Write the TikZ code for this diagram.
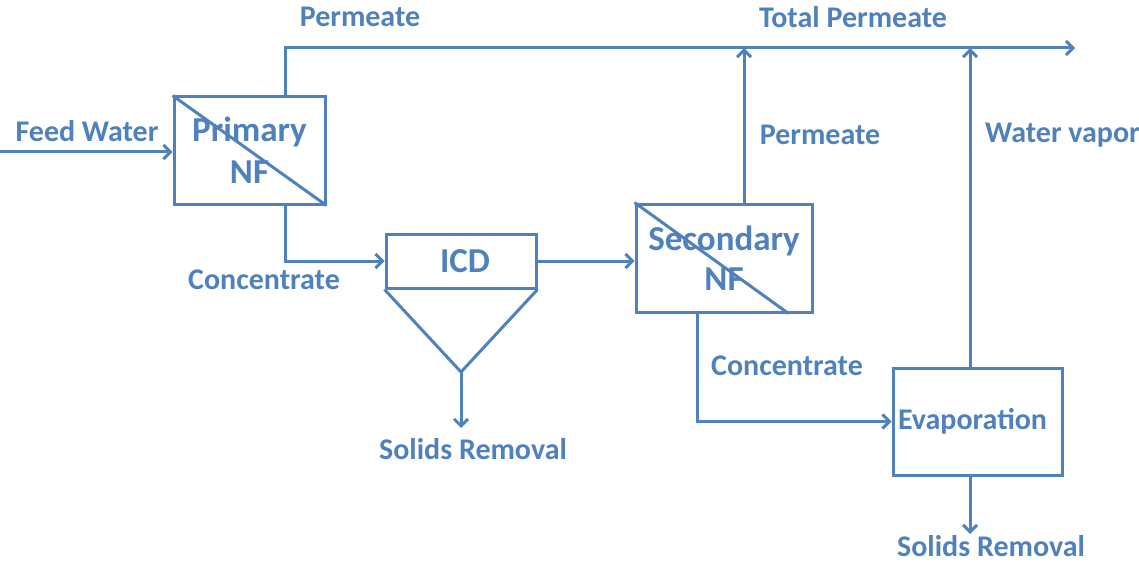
\documentclass[tikz,border=0pt]{standalone}
\usepackage{fontspec}
\setmainfont{Carlito}
\usetikzlibrary{arrows.meta, positioning}
\definecolor{flowblue}{RGB}{79,129,189}
\tikzset{
  unit/.style = {draw=flowblue, line width=3pt, inner sep=0pt, align=center,
                 text=flowblue, font=\bfseries\fontsize{35}{42}\selectfont},
  link/.style = {flowblue, line width=3pt,
                 arrows={-Straight Barb[length=7pt, width=14pt, line width=3pt]}},
  pipe/.style = {flowblue, line width=3pt},
  stream/.style = {text=flowblue, inner sep=0pt,
                   font=\bfseries\fontsize{30}{36}\selectfont},
}

\begin{document}
\begin{tikzpicture}[x=1pt, y=-1pt]
  \useasboundingbox (0,0) rectangle (1139,564);

  %% The four units
  \node [unit, minimum width=151pt, minimum height=107pt] (prim) at (249.5,150.5) {Primary\\NF};
  \node [unit, minimum width=150pt, minimum height=54pt, font=\bfseries\fontsize{35}{40}\selectfont]
        (icd) at (461,261) {\hspace*{8pt}ICD};
  \node [unit, minimum width=176pt, minimum height=108pt, font=\bfseries\fontsize{35}{40}\selectfont]
        (sec) at (724,258) {Secondary\\NF};
  \node [unit, minimum width=169pt, minimum height=107pt, font=\bfseries\fontsize{30}{36}\selectfont]
        (evap) at (977.5,421.5) {Evaporation\hspace*{10pt}};

  %% Membrane lines and the settler cone
  \draw [pipe] (prim.north west) -- (prim.south east);
  \draw [pipe] (sec.north west) -- ([xshift=-25pt] sec.south east);
  \coordinate (cone) at (461,372);
  \draw [pipe, line join=round] (icd.south west) -- (cone) -- (icd.south east);

  %% Junctions and free ends
  \coordinate (feed) at (0,152);
  \coordinate (j1) at (285,48);
  \coordinate (j2) at (744,48);
  \coordinate (j3) at (970,48);
  \coordinate (out) at (1075,48);
  \coordinate (c2) at (697,420);
  \coordinate (sr1) at (461,428);
  \coordinate (sr2) at (970,534);

  %% Streams
  \draw [link] (feed) -- (feed -| prim.west);
  \draw [link] (j1 |- prim.north) -- (j1) -- (out);
  \draw [link] (j1 |- prim.south) |- (icd.west);
  \draw [link] (icd.east) -- (icd.east -| sec.west);
  \draw [link] (cone) -- (sr1);
  \draw [link] (j2 |- sec.north) -- (j2);
  \draw [link] (c2 |- sec.south) |- (evap.west);
  \draw [link] (j3 |- evap.north) -- (j3);
  \draw [link] (j3 |- evap.south) -- (sr2);

  %% Stream labels
  \node [stream] (lfeed) at (87,131) {Feed Water};
  \node [stream] (lperm1) at (360,17) {Permeate};
  \node [stream] (ltotal) at (853,17) {Total Permeate};
  \node [stream] (lconc1) at (264,280) {Concentrate};
  \node [stream] (lperm2) at (820,135) {Permeate};
  \node [stream, anchor=west] (lvapor) at (985,135) {Water vapor};
  \node [stream] (lconc2) at (787,366) {Concentrate};
  \node [stream] (lsolid1) at (473,449) {Solids Removal};
  \node [stream] (lsolid2) at (991,546) {Solids Removal};
\end{tikzpicture}
\end{document}
